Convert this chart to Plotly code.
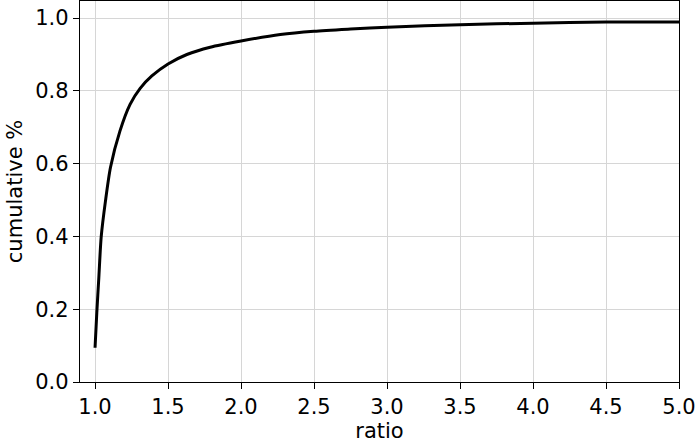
import plotly.graph_objects as go

ratio = [1.0, 1.012, 1.026, 1.042, 1.072, 1.106, 1.171, 1.24, 1.309, 1.389, 1.5, 1.629, 1.789, 2.0, 2.269, 2.5, 2.75, 3.0, 3.5, 4.0, 4.5, 5.0]
cum = [0.094, 0.19, 0.287, 0.398, 0.499, 0.590, 0.690, 0.763, 0.807, 0.841, 0.874, 0.900, 0.920, 0.937, 0.955, 0.964, 0.970, 0.975, 0.982, 0.986, 0.989, 0.9895]

x_ticks = [1.0, 1.5, 2.0, 2.5, 3.0, 3.5, 4.0, 4.5, 5.0]
y_ticks = [0.0, 0.2, 0.4, 0.6, 0.8, 1.0]

fig = go.Figure()
fig.add_trace(go.Scatter(x=ratio, y=cum, mode="lines",
                         line=dict(color="black", width=3, shape="spline", smoothing=0.7),
                         showlegend=False, hoverinfo="skip"))

font = dict(family="DejaVu Sans", size=21, color="black")
axis_common = dict(showline=True, linecolor="black", linewidth=1.3, mirror=True,
                   ticks="outside", ticklen=6, tickwidth=1.3, tickcolor="black",
                   showgrid=True, gridcolor="#d6d6d6", gridwidth=1.2,
                   zeroline=False, tickfont=font)

fig.update_layout(
    width=697, height=443,
    margin=dict(l=80, r=18, t=1, b=61),
    plot_bgcolor="white", paper_bgcolor="white",
    font=font,
    xaxis=dict(range=[0.897, 5.0], tickvals=x_ticks, ticktext=[f"{v:.1f}" for v in x_ticks],
               title=dict(text="ratio", font=font, standoff=4), **axis_common),
    yaxis=dict(range=[0, 1.047], tickvals=y_ticks, ticktext=[f"{v:.1f}" for v in y_ticks],
               title=dict(text="cumulative %", font=font, standoff=6), **axis_common),
)

fig.write_html("out.html", config={"displayModeBar": False},
               post_script="document.body.style.margin='0';")
